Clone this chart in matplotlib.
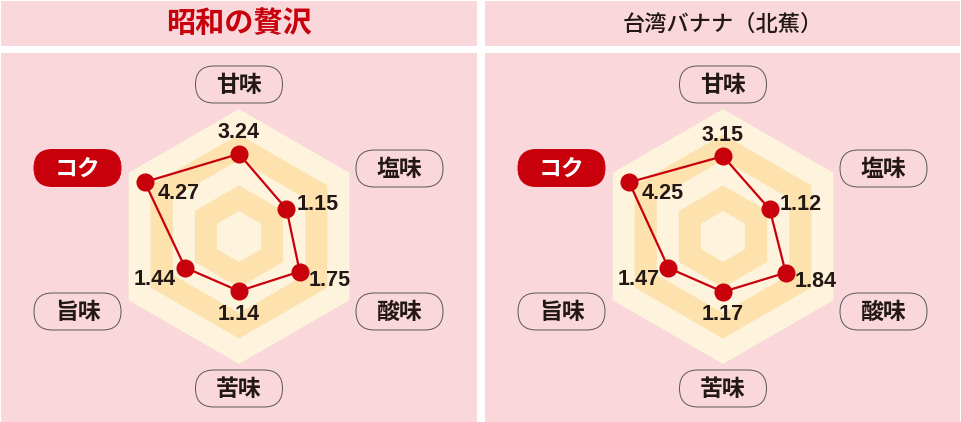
import numpy as np
import matplotlib
matplotlib.use("Agg")
import matplotlib.pyplot as plt
from matplotlib.patches import Rectangle, FancyBboxPatch, Polygon

# データ
tastes = ["甘味", "塩味", "酸味", "苦味", "旨味", "コク"]
showa_values = [3.24, 1.15, 1.75, 1.14, 1.44, 4.27]
taiwan_values = [3.15, 1.12, 1.84, 1.17, 1.47, 4.25]
titles = ["昭和の贅沢", "台湾バナナ（北蕉）"]
# 各軸の目盛りの原点（塩味・酸味・苦味・旨味は-1から）
axis_origin = [0, -1, -1, -1, -1, 0]
n_rings = 5

# 色
PINK = "#F9D7DA"
LIGHT = "#FEF3DC"
DARK = "#FDE2AD"
RED = "#C8000B"
INK = "#231815"

cjk = ["Noto Sans CJK JP", "DejaVu Sans"]

W, H = 961, 422
fig = plt.figure(figsize=(W / 100, H / 100), dpi=100)
fig.patch.set_facecolor("white")

# 背景用の軸（ピクセル座標）
bg = fig.add_axes([0, 0, 1, 1])
bg.set_xlim(0, W)
bg.set_ylim(H, 0)
bg.axis("off")

panels = [(1, 477), (485, 960)]
centers = [(239, 236.5), (723, 236.5)]

# ラベルの位置（中心からのずれ, px）
pill_offsets = [(0, -152), (160.5, -68), (160.5, 75), (0, 152), (-161.5, 75), (-161.5, -68.5)]
value_offsets = [(0, 21), (31, 5), (30, -9), (0, -23), (-30, -12), (34, -11)]

px_per_unit = 25.5
half = 6

for p, ((x0, x1), (cx, cy), title, values) in enumerate(
        zip(panels, centers, titles, [showa_values, taiwan_values])):
    bg.add_patch(Rectangle((x0, 1), x1 - x0, 45, color=PINK, lw=0))
    bg.add_patch(Rectangle((x0, 53), x1 - x0, H - 53, color=PINK, lw=0))
    if p == 0:
        bg.text(cx, 23, title, ha="center", va="center", fontsize=21,
                fontweight="bold", color=RED, family=cjk)
    else:
        bg.text(cx, 24, title, ha="center", va="center", fontsize=16,
                fontweight="medium", color=INK, family=cjk)

    # 軸ラベル（ピル）
    pw, ph = 87, 37
    for i, name in enumerate(tastes):
        dx, dy = pill_offsets[i]
        is_koku = name == "コク"
        bg.add_patch(FancyBboxPatch(
            (cx + dx - pw / 2, cy + dy - ph / 2), pw, ph,
            boxstyle="round,pad=0,rounding_size=18.5",
            facecolor=RED if is_koku else PINK,
            edgecolor=RED if is_koku else "#595757",
            lw=0.7))
        bg.text(cx + dx, cy + dy + 1, name, ha="center", va="center",
                fontsize=16.5, fontweight="bold",
                color="white" if is_koku else INK, family=cjk)

    # レーダー
    s = half * px_per_unit
    ax = fig.add_axes([(cx - s) / W, (H - (cy + s)) / H, 2 * s / W, 2 * s / H])
    ax.set_xlim(-half, half)
    ax.set_ylim(-half, half)
    ax.axis("off")
    ax.patch.set_alpha(0)

    theta = np.deg2rad(np.arange(len(tastes)) * 60)
    for k in range(n_rings, 0, -1):
        hx = k * np.sin(theta)
        hy = k * np.cos(theta)
        ax.add_patch(Polygon(np.column_stack([hx, hy]), closed=True,
                             facecolor=LIGHT if k % 2 else DARK, lw=0))

    r = np.array(values) - np.array(axis_origin)
    xs = r * np.sin(theta)
    ys = r * np.cos(theta)
    ax.plot(np.append(xs, xs[0]), np.append(ys, ys[0]), color=RED, lw=1.6, zorder=3)
    ax.plot(xs, ys, "o", color=RED, ms=12, zorder=4)
    for i, v in enumerate(values):
        ax.annotate(f"{v:.2f}", (xs[i], ys[i]), xytext=value_offsets[i],
                    textcoords="offset pixels", ha="center", va="center",
                    fontsize=15.5, fontweight="bold", color=INK,
                    family="Liberation Sans", zorder=5)

fig.savefig("out.png", dpi=100, facecolor="white")
